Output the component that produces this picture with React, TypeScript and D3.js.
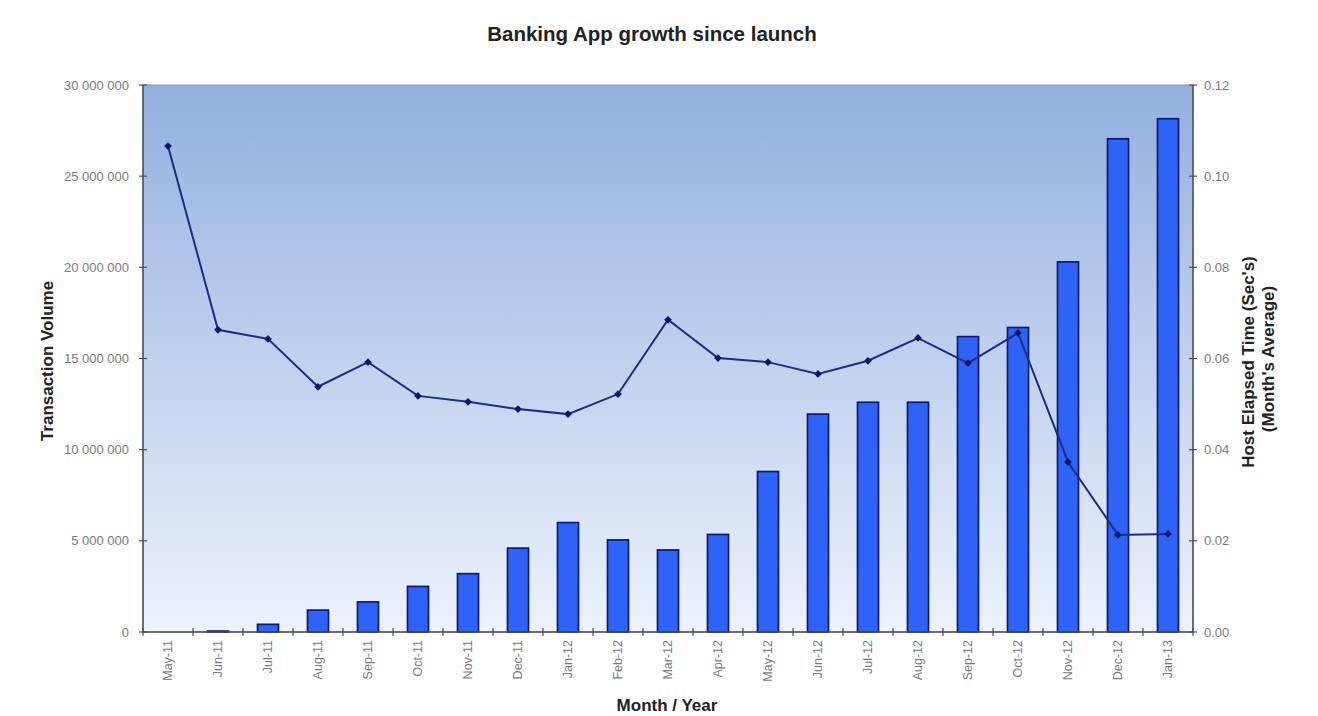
import React from "react";
import * as d3 from "d3";

const months = ["May-11","Jun-11","Jul-11","Aug-11","Sep-11","Oct-11","Nov-11","Dec-11","Jan-12","Feb-12","Mar-12","Apr-12","May-12","Jun-12","Jul-12","Aug-12","Sep-12","Oct-12","Nov-12","Dec-12","Jan-13"];
const volume = [0, 50000, 420000, 1200000, 1650000, 2500000, 3200000, 4600000, 6000000, 5050000, 4500000, 5350000, 8800000, 11950000, 12600000, 12600000, 16200000, 16700000, 20300000, 27050000, 28150000];
const elapsed = [0.1066, 0.0663, 0.0643, 0.0538, 0.0592, 0.0518, 0.0505, 0.0489, 0.0478, 0.0522, 0.0685, 0.0601, 0.0592, 0.0566, 0.0595, 0.0645, 0.059, 0.0656, 0.0373, 0.0213, 0.0215];
const leftTicks = [0, 5000000, 10000000, 15000000, 20000000, 25000000, 30000000];
const rightTicks = [0, 0.02, 0.04, 0.06, 0.08, 0.1, 0.12];

const W = 1318, H = 716;
const PL = 143, PR = 1193, PT = 85, PB = 632;

export default function App() {
  const x = d3.scaleBand<string>().domain(months).range([PL, PR]).paddingInner(0).paddingOuter(0);
  const yL = d3.scaleLinear().domain([0, 30000000]).range([PB, PT]);
  const yR = d3.scaleLinear().domain([0, 0.12]).range([PB, PT]);
  const bw = x.bandwidth() * 0.42;
  const fmtL = (v: number) => d3.format(",")(v).replace(/,/g, " ");
  const fmtR = d3.format(".2f");
  const line = d3.line<number>()
    .x((_, i) => (x(months[i]) as number) + x.bandwidth() / 2)
    .y((d) => yR(d));
  const font = "'Liberation Sans', Arial, sans-serif";
  const marker = d3.symbol().type(d3.symbolSquare).size(30)();

  return (
    <svg width={W} height={H} style={{ position: "absolute", left: 0, top: 0, background: "#fff" }} fontFamily={font}>
      <defs>
        <linearGradient id="bg" x1="0" y1="0" x2="0" y2="1">
          <stop offset="0%" stopColor="#93afdf" />
          <stop offset="50%" stopColor="#c0d1ee" />
          <stop offset="100%" stopColor="#edf2fb" />
        </linearGradient>
      </defs>
      <rect x={PL} y={PT} width={PR - PL} height={PB - PT} fill="url(#bg)" stroke="#8a93a8" strokeWidth={1} />
      <text x={652} y={41} textAnchor="middle" fontSize={20.5} fontWeight="bold" fill="#222">Banking App growth since launch</text>

      {volume.map((v, i) => (
        <rect key={months[i]}
          x={(x(months[i]) as number) + (x.bandwidth() - bw) / 2}
          y={yL(v)}
          width={bw}
          height={PB - yL(v)}
          fill="#2f62f7"
          stroke="#0f1a66"
          strokeWidth={1.7}
        />
      ))}

      <path d={line(elapsed) || ""} fill="none" stroke="#1d2c86" strokeWidth={2} />
      {elapsed.map((v, i) => (
        <path key={"m" + i} d={marker || ""} transform={`translate(${(x(months[i]) as number) + x.bandwidth() / 2},${yR(v)}) rotate(45)`} fill="#0b1870" />
      ))}

      <line x1={PL} x2={PL} y1={PT} y2={PB} stroke="#4a4f5c" strokeWidth={1.5} />
      <line x1={PR} x2={PR} y1={PT} y2={PB} stroke="#4a4f5c" strokeWidth={1.5} />
      <line x1={PL} x2={PR} y1={PB} y2={PB} stroke="#4a4f5c" strokeWidth={1.5} />

      {leftTicks.map((t) => (
        <g key={"l" + t}>
          <line x1={PL - 4} x2={PL + 4} y1={yL(t)} y2={yL(t)} stroke="#4a4f5c" strokeWidth={1.2} />
          <text x={PL - 14} y={yL(t)} dy="0.35em" textAnchor="end" fontSize={13} fill="#7a7a7a">{fmtL(t)}</text>
        </g>
      ))}
      {rightTicks.map((t) => (
        <g key={"r" + t}>
          <line x1={PR - 4} x2={PR + 4} y1={yR(t)} y2={yR(t)} stroke="#4a4f5c" strokeWidth={1.2} />
          <text x={PR + 11} y={yR(t)} dy="0.35em" textAnchor="start" fontSize={13} fill="#7a7a7a">{fmtR(t)}</text>
        </g>
      ))}
      {d3.range(months.length + 1).map((i) => (
        <line key={"xt" + i} x1={PL + i * x.step()} x2={PL + i * x.step()} y1={PB - 4} y2={PB + 4} stroke="#4a4f5c" strokeWidth={1.2} />
      ))}
      {months.map((m) => {
        const cx = (x(m) as number) + x.bandwidth() / 2;
        return (
          <text key={"xl" + m} transform={`translate(${cx + 4},${PB + 8}) rotate(-90)`} textAnchor="end" fontSize={12.5} fill="#7a7a7a">{m}</text>
        );
      })}

      <text transform={`translate(53,361) rotate(-90)`} textAnchor="middle" fontSize={17} fontWeight="bold" fill="#222">Transaction Volume</text>
      <text transform={`translate(1254,362) rotate(-90)`} textAnchor="middle" fontSize={17} fontWeight="bold" fill="#222">Host Elapsed Time (Sec's)</text>
      <text transform={`translate(1274,359) rotate(-90)`} textAnchor="middle" fontSize={17} fontWeight="bold" fill="#222">(Month's Average)</text>
      <text x={667} y={711} textAnchor="middle" fontSize={17} fontWeight="bold" fill="#222">Month / Year</text>
    </svg>
  );
}
